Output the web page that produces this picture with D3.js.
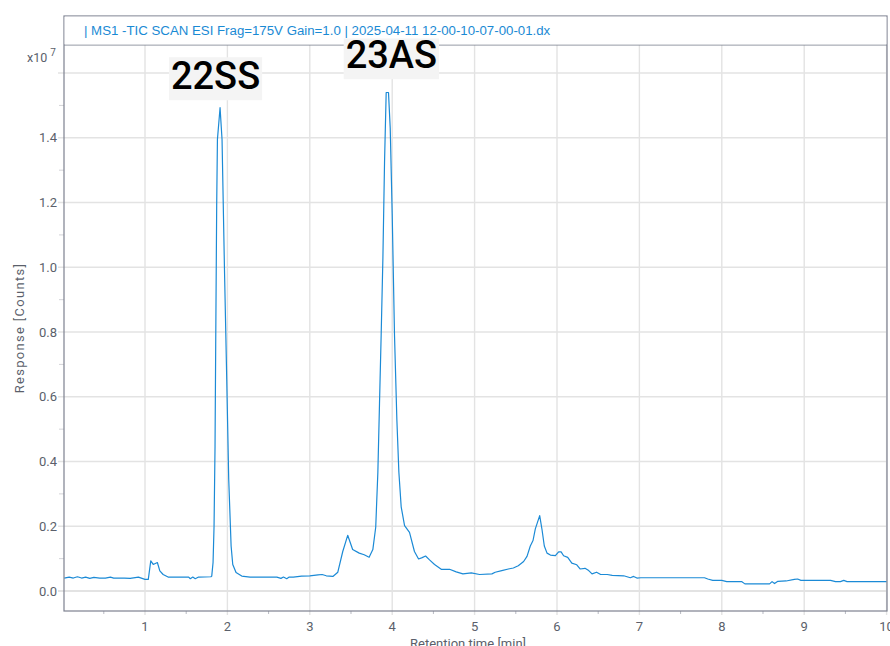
<!DOCTYPE html>
<html>
<head>
<meta charset="utf-8">
<script src="https://cdn.jsdelivr.net/npm/d3@7"></script>
<style>
  html, body { margin: 0; padding: 0; background: #fff; }
  svg { display: block; font-family: Roboto, "Liberation Sans", sans-serif; }
</style>
</head>
<body>
<svg id="chart" width="890" height="646"></svg>
<script>
// Retention time (min)
const rt = [0.02,0.08,0.13,0.18,0.23,0.28,0.33,0.38,0.45,0.52,0.58,0.62,0.75,0.82,0.92,1.00,1.04,1.07,1.10,1.15,1.18,1.22,1.28,1.53,1.55,1.58,1.61,1.65,1.80,1.81,1.826,1.838,1.850,1.858,1.870,1.879,1.911,1.935,1.964,1.992,2.016,2.045,2.065,2.105,2.174,2.275,2.60,2.65,2.68,2.72,2.75,2.80,2.90,3.00,3.10,3.15,3.20,3.28,3.34,3.40,3.46,3.52,3.60,3.66,3.72,3.765,3.80,3.826,3.846,3.866,3.887,3.907,3.927,3.955,3.976,4.000,4.028,4.057,4.081,4.109,4.150,4.210,4.270,4.320,4.364,4.405,4.453,4.514,4.595,4.696,4.777,4.858,4.960,5.06,5.21,5.25,5.33,5.41,5.47,5.53,5.595,5.636,5.676,5.709,5.737,5.79,5.818,5.846,5.879,5.92,5.98,6.02,6.05,6.08,6.13,6.18,6.24,6.28,6.34,6.385,6.425,6.48,6.53,6.61,6.67,6.81,6.89,6.93,6.97,7.016,7.79,7.83,7.89,8.00,8.06,8.24,8.28,8.58,8.61,8.64,8.68,8.78,8.88,8.92,8.96,9.32,9.38,9.44,9.48,9.52,10.0];
// Response (x10^7 counts)
const resp = [0.040,0.043,0.040,0.044,0.040,0.043,0.039,0.042,0.040,0.040,0.043,0.040,0.040,0.039,0.043,0.036,0.036,0.093,0.082,0.088,0.062,0.051,0.043,0.043,0.038,0.043,0.038,0.043,0.044,0.046,0.088,0.200,0.448,0.757,1.190,1.395,1.493,1.395,1.000,0.654,0.345,0.139,0.082,0.057,0.046,0.043,0.043,0.039,0.043,0.038,0.043,0.043,0.046,0.047,0.050,0.051,0.047,0.045,0.058,0.122,0.172,0.128,0.117,0.112,0.104,0.128,0.197,0.367,0.580,0.790,1.027,1.324,1.540,1.540,1.430,1.165,0.790,0.527,0.367,0.260,0.202,0.181,0.122,0.099,0.103,0.108,0.096,0.082,0.067,0.067,0.059,0.053,0.056,0.051,0.053,0.058,0.063,0.068,0.071,0.078,0.091,0.107,0.139,0.156,0.192,0.233,0.190,0.139,0.117,0.111,0.109,0.121,0.121,0.109,0.104,0.086,0.081,0.068,0.070,0.063,0.053,0.058,0.051,0.051,0.048,0.047,0.041,0.045,0.040,0.041,0.041,0.037,0.033,0.033,0.029,0.029,0.022,0.022,0.029,0.023,0.030,0.031,0.036,0.037,0.033,0.033,0.029,0.029,0.033,0.029,0.029];

const xTicks = [1,2,3,4,5,6,7,8,9,10];
const xMinor = [0.5,1.5,2.5,3.5,4.5,5.5,6.5,7.5,8.5,9.5];
const yTicks = [0.0,0.2,0.4,0.6,0.8,1.0,1.2,1.4];
const yGridExtra = [1.6];
const yMinor = [0.1,0.3,0.5,0.7,0.9,1.1,1.3,1.5];

const peakNames = ["22SS","23AS"];
const peakLabelTimes = [1.856, 3.99];
const peakLabelLevels = [1.55, 1.615];

const headerText = "| MS1 -TIC SCAN ESI Frag=175V Gain=1.0 | 2025-04-11 12-00-10-07-00-01.dx";

const svg = d3.select("#chart");
const L = 64, R = 887, T = 16, HB = 45, B = 611;

const x = d3.scaleLinear().domain([0.017, 10.0]).range([64, 886.6]);
const y = d3.scaleLinear().domain([0, 1.4]).range([591, 137.8]);

const gridColor = "#e3e3e3";
const axisColor = "#7d8190";
const labelColor = "#5b5f6b";

// grid
const g = svg.append("g");
g.selectAll(".vg").data(xTicks).join("line")
  .attr("x1", d => x(d)).attr("x2", d => x(d))
  .attr("y1", HB).attr("y2", B + 4)
  .attr("stroke", gridColor).attr("stroke-width", 1.4);
g.selectAll(".hg").data(yTicks.concat(yGridExtra)).join("line")
  .attr("x1", L - 6).attr("x2", R)
  .attr("y1", d => y(d)).attr("y2", d => y(d))
  .attr("stroke", gridColor).attr("stroke-width", d => d === 0 ? 2 : 1.4);

// minor ticks
g.selectAll(".ym").data(yMinor).join("line")
  .attr("x1", L - 5).attr("x2", L)
  .attr("y1", d => y(d)).attr("y2", d => y(d))
  .attr("stroke", "#d4d4d8").attr("stroke-width", 1);
g.selectAll(".xm").data(xMinor).join("line")
  .attr("x1", d => x(d)).attr("x2", d => x(d))
  .attr("y1", B).attr("y2", B + 3)
  .attr("stroke", "#b8bac2").attr("stroke-width", 1);

// tick labels
svg.append("g").selectAll("text").data(yTicks).join("text")
  .attr("x", 57).attr("y", d => y(d) + 4.5)
  .attr("text-anchor", "end").attr("font-size", 13).attr("fill", labelColor)
  .text(d => d.toFixed(1));
svg.append("g").selectAll("text").data(xTicks).join("text")
  .attr("x", d => x(d)).attr("y", 631)
  .attr("text-anchor", "middle").attr("font-size", 13).attr("fill", labelColor)
  .text(d => d);

// multiplier
const mult = svg.append("text").attr("x", 27).attr("y", 62).attr("font-size", 12.5).attr("fill", labelColor);
mult.append("tspan").text("x10");
mult.append("tspan").attr("dx", 3).attr("dy", -6).attr("font-size", 10).text("7");

// axis titles
svg.append("text").attr("x", 468).attr("y", 648).attr("text-anchor", "middle")
  .attr("font-size", 13).attr("fill", labelColor).text("Retention time [min]");
svg.append("text").attr("transform", "translate(24,328) rotate(-90)")
  .attr("text-anchor", "middle").attr("font-size", 13).attr("letter-spacing", 1.3)
  .attr("fill", labelColor).text("Response [Counts]");

// trace
const pts = rt.map((t, i) => [t, resp[i]]);
const line = d3.line().x(d => x(d[0])).y(d => y(d[1]));
svg.append("path").datum(pts)
  .attr("d", line).attr("fill", "none")
  .attr("stroke", "#1b8ad6").attr("stroke-width", 1.2).attr("stroke-linejoin", "round");

// frame
svg.append("rect").attr("x", L).attr("y", T).attr("width", R - L).attr("height", B - T)
  .attr("fill", "none").attr("stroke", axisColor).attr("stroke-width", 1.2);
svg.append("line").attr("x1", L).attr("x2", R).attr("y1", HB).attr("y2", HB)
  .attr("stroke", axisColor).attr("stroke-width", 1.2);
svg.append("rect").attr("x", L + 0.6).attr("y", T + 0.6).attr("width", R - L - 1.2).attr("height", HB - T - 1.2)
  .attr("fill", "#fff");
svg.append("text").attr("x", 84).attr("y", 35).attr("font-size", 13.25)
  .attr("font-family", "'Liberation Sans', Arial, sans-serif")
  .attr("fill", "#1a8ad4")
  .text(headerText);

// peak labels
peakNames.forEach((name, i) => {
  const cx = x(peakLabelTimes[i]);
  const by = y(peakLabelLevels[i]);
  const t = svg.append("text").attr("x", cx).attr("y", by)
    .attr("text-anchor", "middle").attr("font-size", 38).attr("font-weight", 500)
    .attr("fill", "#000").text(name);
  const bb = t.node().getBBox();
  const top = Math.max(bb.y + 3, 38.5);
  svg.insert("rect", () => t.node())
    .attr("x", bb.x - 2).attr("y", top).attr("width", bb.width + 4).attr("height", bb.y + bb.height + 2 - top)
    .attr("fill", "#f4f4f4");
});
</script>
</body>
</html>
